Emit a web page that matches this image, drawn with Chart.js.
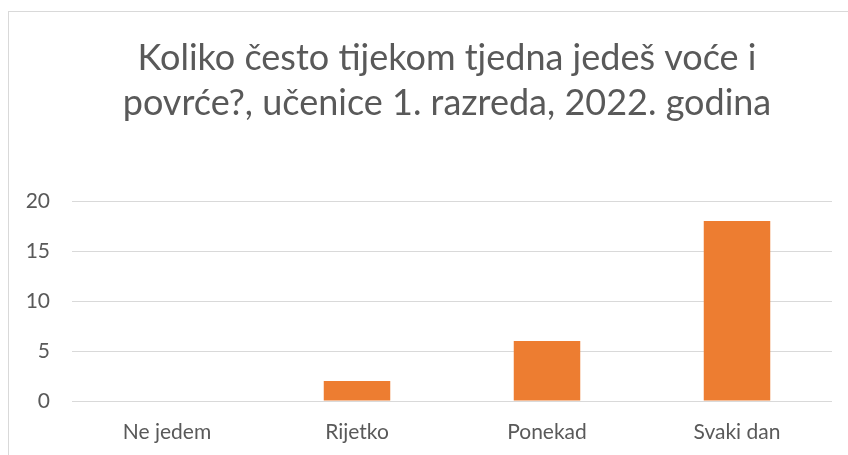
<!DOCTYPE html>
<html>
<head>
<meta charset="utf-8">
<script src="https://cdn.jsdelivr.net/npm/chart.js"></script>
<style>
  html, body { margin: 0; padding: 0; background: #ffffff; overflow: hidden; }
  #wrap { position: absolute; left: 0; top: 0; width: 848px; height: 455px; overflow: hidden; }
  #frame { position: absolute; left: 8px; top: 11px; width: 860px; height: 460px; border: 1px solid #d9d9d9; box-sizing: border-box; }
  canvas { position: absolute; left: 0; top: 0; }
</style>
</head>
<body>
<div id="wrap">
  <div id="frame"></div>
  <canvas id="c" width="894" height="455"></canvas>
</div>
<script>
const titleLines = ["Koliko često tijekom tjedna jedeš voće i", "povrće?, učenice 1. razreda, 2022. godina"];
const categories = ["Ne jedem", "Rijetko", "Ponekad", "Svaki dan"];
const values = [0, 2, 6, 18];
const yTicks = [0, 5, 10, 15, 20];

const fontFamily = "Lato, 'Open Sans', sans-serif";
const textColor = "#595959";

new Chart(document.getElementById("c"), {
  type: "bar",
  data: {
    labels: categories,
    datasets: [{
      data: values,
      backgroundColor: "#ED7D31",
      borderWidth: 0,
      categoryPercentage: 1,
      barPercentage: 0.35,
      yAxisID: "y"
    }]
  },
  options: {
    responsive: false,
    animation: false,
    layout: { padding: { left: 0, right: 0, top: 0, bottom: 0 } },
    plugins: {
      legend: { display: false },
      tooltip: { enabled: false },
      title: {
        display: true,
        text: titleLines,
        color: textColor,
        font: { family: fontFamily, size: 36, weight: "normal", lineHeight: 1.25 },
        padding: { top: 36, bottom: 75 }
      }
    },
    scales: {
      x: {
        grid: { display: false, drawTicks: false },
        border: { display: false },
        ticks: { color: textColor, font: { family: fontFamily, size: 21 }, padding: 19 },
        afterFit: (s) => { s.height = 54; }
      },
      y: {
        min: 0, max: 20,
        afterBuildTicks: (s) => { s.ticks = yTicks.map(v => ({ value: v })); },
        grid: { color: "#d9d9d9", lineWidth: 1, drawTicks: false },
        border: { display: false },
        ticks: { color: textColor, font: { family: fontFamily, size: 21 }, padding: 22 },
        afterFit: (s) => { s.width = 72; }
      },
      yRight: {
        position: "right",
        min: 0, max: 20,
        grid: { display: false, drawTicks: false },
        border: { display: false },
        ticks: { display: false },
        afterFit: (s) => { s.width = 62; }
      }
    }
  }
});
</script>
</body>
</html>
